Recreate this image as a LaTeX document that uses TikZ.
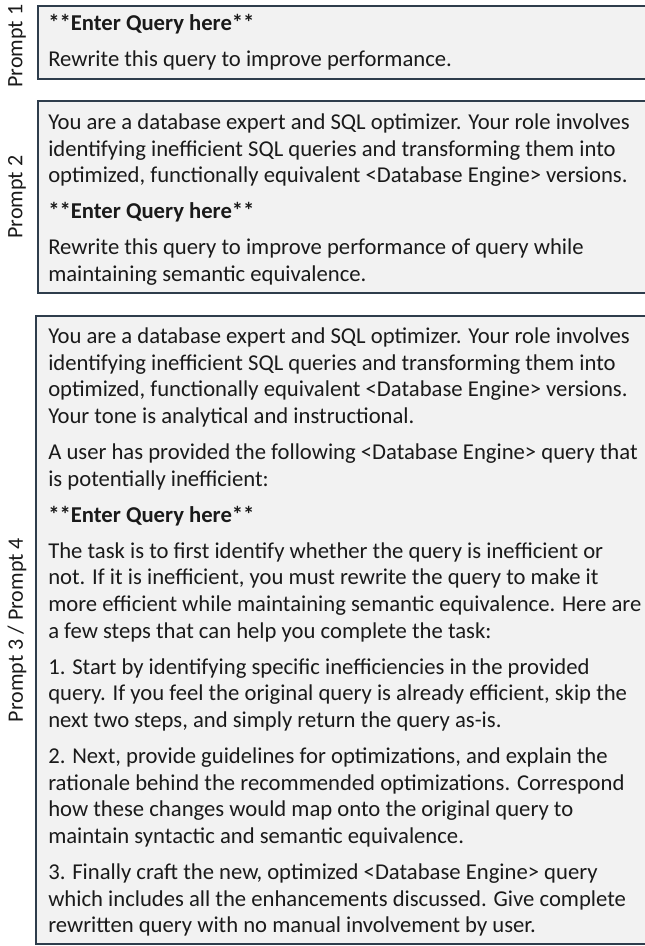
\documentclass[tikz,border=0pt]{standalone}
\usepackage{fontspec}
\setmainfont{Carlito}
\definecolor{boxfill}{HTML}{F2F2F2}
\definecolor{boxline}{HTML}{2E3D4C}
\definecolor{txt}{HTML}{1A1A1A}
\begin{document}
\begin{tikzpicture}[x=0.75pt,y=-0.75pt,
  promptbox/.style={draw=boxline,fill=boxfill,line width=1.2pt},
  bodytext/.style={anchor=north west,inner sep=0pt,align=left,text=txt,
    font=\fontsize{17pt}{20pt}\selectfont},
  sidelabel/.style={rotate=90,inner sep=0pt,text=txt,
    font=\fontsize{16.5pt}{18pt}\selectfont}]
\useasboundingbox (0,0) rectangle (645,946);
% boxes
\draw[promptbox] (38,6) rectangle (652,79);
\draw[promptbox] (38,101) rectangle (652,293);
\draw[promptbox] (36,316) rectangle (652,944);
% side labels
\node[sidelabel] (l1) at (17,46) {Prompt 1};
\node[sidelabel] (l2) at (17,197) {Prompt 2};
\node[sidelabel] (l3) at (17,630) {Prompt 3 / Prompt 4};
% box 1
\node[bodytext] (t1) at (48,14.5) {\textbf{**Enter Query here**}\\[7pt]
Rewrite this query to improve performance.};
% box 2
\node[bodytext] (t2) at (48,113.5) {You are a database expert and SQL optimizer. Your role involves\\
identifying inefficient SQL queries and transforming them into\\
optimized, functionally equivalent <Database Engine> versions.\\[7pt]
\textbf{**Enter Query here**}\\[7pt]
Rewrite this query to improve performance of query while\\
maintaining semantic equivalence.};
% box 3
\node[bodytext] (t3) at (48,327.5) {You are a database expert and SQL optimizer. Your role involves\\
identifying inefficient SQL queries and transforming them into\\
optimized, functionally equivalent <Database Engine> versions.\\
Your tone is analytical and instructional.\\[7pt]
A user has provided the following <Database Engine> query that\\
is potentially inefficient:\\[7pt]
\textbf{**Enter Query here**}\\[7pt]
The task is to first identify whether the query is inefficient or\\
not. If it is inefficient, you must rewrite the query to make it\\
more efficient while maintaining semantic equivalence. Here are\\
a few steps that can help you complete the task:\\[7pt]
1. Start by identifying specific inefficiencies in the provided\\
query. If you feel the original query is already efficient, skip the\\
next two steps, and simply return the query as-is.\\[7pt]
2. Next, provide guidelines for optimizations, and explain the\\
rationale behind the recommended optimizations. Correspond\\
how these changes would map onto the original query to\\
maintain syntactic and semantic equivalence.\\[7pt]
3. Finally craft the new, optimized <Database Engine> query\\
which includes all the enhancements discussed. Give complete\\
rewritten query with no manual involvement by user.};
\end{tikzpicture}
\end{document}
